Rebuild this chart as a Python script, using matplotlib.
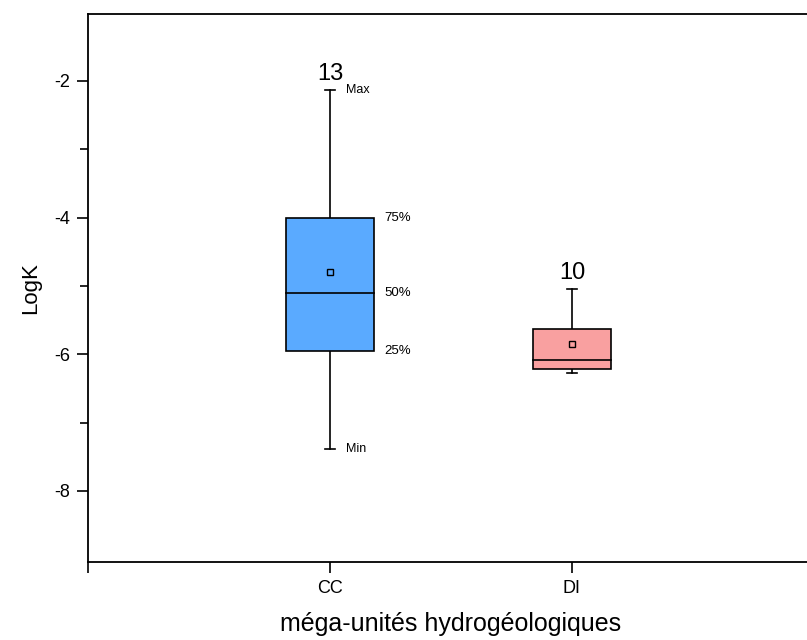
import matplotlib
matplotlib.use("Agg")
import matplotlib.pyplot as plt
from matplotlib.patches import Rectangle

plt.rcParams['font.family'] = ['Liberation Sans', 'DejaVu Sans']
plt.rcParams['axes.unicode_minus'] = False

categories = ["CC", "DI"]
q1 = [-5.95, -6.21]
median = [-5.10, -6.09]
q3 = [-4.00, -5.625]
wmin = [-7.38, -6.28]
wmax = [-2.13, -5.04]
mean = [-4.79, -5.85]
counts = [13, 10]
colors = ["#5AAAFF", "#F9A0A0"]
widths = [0.36, 0.32]

fig = plt.figure(figsize=(8.07, 6.4), dpi=100)
ax = fig.add_axes([88/807, 1-562/640, (814-88)/807, (562-14)/640])

for i, cat in enumerate(categories):
    x = i + 1
    w = widths[i]
    ax.add_patch(Rectangle((x - w/2, q1[i]), w, q3[i]-q1[i], facecolor=colors[i],
                           edgecolor='black', lw=1.2, zorder=2))
    ax.plot([x - w/2, x + w/2], [median[i], median[i]], color='black', lw=1.2, zorder=3)
    ax.plot([x, x], [q3[i], wmax[i]], color='black', lw=1.2, zorder=1)
    ax.plot([x, x], [q1[i], wmin[i]], color='black', lw=1.2, zorder=1)
    cw = 0.02
    ax.plot([x - cw, x + cw], [wmax[i], wmax[i]], color='black', lw=1.2)
    ax.plot([x - cw, x + cw], [wmin[i], wmin[i]], color='black', lw=1.2)
    ax.plot([x], [mean[i]], marker='s', ms=5, mfc='none', mec='black', mew=1.0, zorder=4)
    ax.text(x, wmax[i] + 0.07, str(counts[i]), ha='center', va='bottom', fontsize=17)

# annotation labels for CC
x0 = 1
w0 = widths[0]
ax.text(x0 + 0.065, wmax[0], "Max", fontsize=9, va='center', ha='left')
ax.text(x0 + w0/2 + 0.045, q3[0], "75%", fontsize=9.5, va='center', ha='left')
ax.text(x0 + w0/2 + 0.045, median[0], "50%", fontsize=9.5, va='center', ha='left')
ax.text(x0 + w0/2 + 0.045, q1[0], "25%", fontsize=9.5, va='center', ha='left')
ax.text(x0 + 0.065, wmin[0], "Min", fontsize=9, va='center', ha='left')

ax.set_xlim(0, 3)
ax.set_ylim(-9.04, -1.02)
ax.set_xticks([0, 1, 2, 3])
ax.set_xticklabels(["", "CC", "DI", ""])
ax.set_yticks([-2, -4, -6, -8])
ax.set_yticks([-3, -5, -7], minor=True)
ax.tick_params(axis='both', which='major', direction='out', length=8, width=1.2, labelsize=13, pad=5)
ax.tick_params(axis='y', which='minor', direction='out', length=5.5, width=1.2)
for s in ax.spines.values():
    s.set_linewidth(1.3)

ax.set_ylabel("LogK", fontsize=16, labelpad=9)
ax.set_xlabel("méga-unités hydrogéologiques", fontsize=18, labelpad=11)

fig.savefig("out.png", dpi=100)
